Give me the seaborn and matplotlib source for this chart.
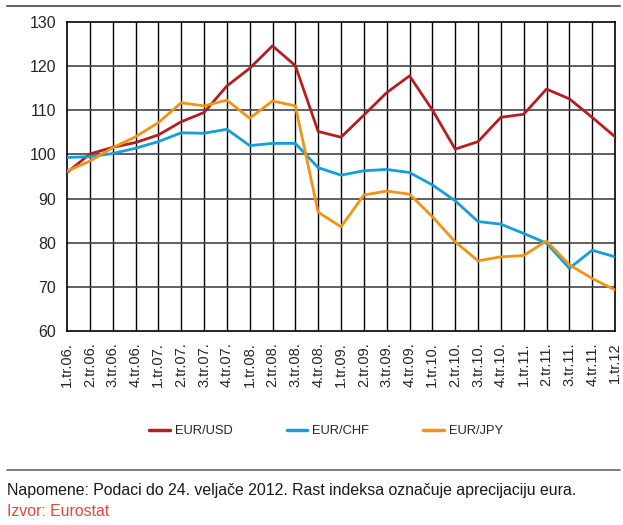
import pandas as pd
import numpy as np
import matplotlib
matplotlib.use("Agg")
import matplotlib.pyplot as plt
import seaborn as sns
from matplotlib.lines import Line2D

# quarters 1.tr.06. .. 1.tr.12
quarters = ["1.tr.06.", "2.tr.06.", "3.tr.06.", "4.tr.06.",
            "1.tr.07.", "2.tr.07.", "3.tr.07.", "4.tr.07.",
            "1.tr.08.", "2.tr.08.", "3.tr.08.", "4.tr.08.",
            "1.tr.09.", "2.tr.09.", "3.tr.09.", "4.tr.09.",
            "1.tr.10.", "2.tr.10.", "3.tr.10.", "4.tr.10.",
            "1.tr.11.", "2.tr.11.", "3.tr.11.", "4.tr.11.",
            "1.tr.12"]

eur_usd = [95.9, 100.1, 101.6, 102.7, 104.4, 107.4, 109.5, 115.5, 119.5, 124.6,
           120.1, 105.2, 103.9, 108.9, 114.0, 117.8, 110.1, 101.2, 102.9, 108.4,
           109.1, 114.8, 112.6, 108.4, 104.0]
eur_chf = [99.3, 99.5, 100.2, 101.4, 102.9, 104.9, 104.8, 105.7, 102.0, 102.5,
           102.5, 97.0, 95.3, 96.3, 96.6, 95.9, 93.1, 89.5, 84.8, 84.2,
           82.1, 79.9, 74.2, 78.3, 76.8]
eur_jpy = [96.2, 98.5, 101.5, 104.0, 107.2, 111.7, 111.0, 112.3, 108.2, 112.1,
           111.0, 86.9, 83.6, 90.8, 91.7, 91.0, 85.9, 80.2, 75.9, 76.8,
           77.1, 80.4, 75.0, 71.9, 69.3]

series_names = ["EUR/USD", "EUR/CHF", "EUR/JPY"]
colors = ["#B41E23", "#129FDB", "#F39314"]

df = pd.concat([
    pd.DataFrame({"kvartal": quarters, "indeks": vals, "tecaj": name})
    for name, vals in zip(series_names, [eur_usd, eur_chf, eur_jpy])
])

sns.set_style("white")
plt.rcParams["font.family"] = ["Liberation Sans", "DejaVu Sans"]

fig = plt.figure(figsize=(6.23, 5.25), dpi=100)
ax = fig.add_axes([67 / 623, 1 - 331 / 525, (615 - 67) / 623, (331 - 22) / 525])

sns.lineplot(data=df, x="kvartal", y="indeks", hue="tecaj", sort=False,
             palette=dict(zip(series_names, colors)), linewidth=2.0, ax=ax,
             legend=False, zorder=3)

ax.set_xlim(0, len(quarters) - 1)
ax.set_ylim(60, 130)
ax.set_yticks(range(60, 131, 10))
ax.set_xticks(range(len(quarters)))
ax.set_xticklabels(quarters, rotation=90, fontsize=10.5)
ax.tick_params(axis="y", labelsize=11.5, length=0, pad=8)
ax.tick_params(axis="x", length=0, pad=8)
ax.set_xlabel("")
ax.set_ylabel("")

for i in range(1, len(quarters) - 1):
    ax.axvline(i, color="black", lw=1.0, zorder=1)
for v in range(70, 130, 10):
    ax.axhline(v, color="#444444", lw=1.2, zorder=1)
for s in ax.spines.values():
    s.set_color("black")
    s.set_linewidth(1.2)

handles = [Line2D([0], [0], color=c, lw=2.5) for c in colors]
fig.legend(handles, series_names, loc="center", bbox_to_anchor=(326 / 623, 1 - 431 / 525),
           ncol=3, frameon=False, handlelength=1.6, handletextpad=0.38,
           columnspacing=4.2, prop={"family": ["Liberation Sans", "DejaVu Sans"], "size": 9.3})

fig.add_artist(Line2D([7 / 623, 620 / 623], [1 - 6 / 525] * 2, color="#666666", lw=1.5))
fig.add_artist(Line2D([7 / 623, 620 / 623], [1 - 470 / 525] * 2, color="#666666", lw=1.2))

fig.text(7 / 623, 1 - 490 / 525,
         "Napomene: Podaci do 24. veljače 2012. Rast indeksa označuje aprecijaciju eura.",
         fontsize=11.4, va="center", ha="left", color="#1a1a1a")
fig.text(7 / 623, 1 - 512 / 525, "Izvor: Eurostat", fontsize=11.4, va="center",
         ha="left", color="#E5473C")

fig.savefig("out.png", dpi=100)
